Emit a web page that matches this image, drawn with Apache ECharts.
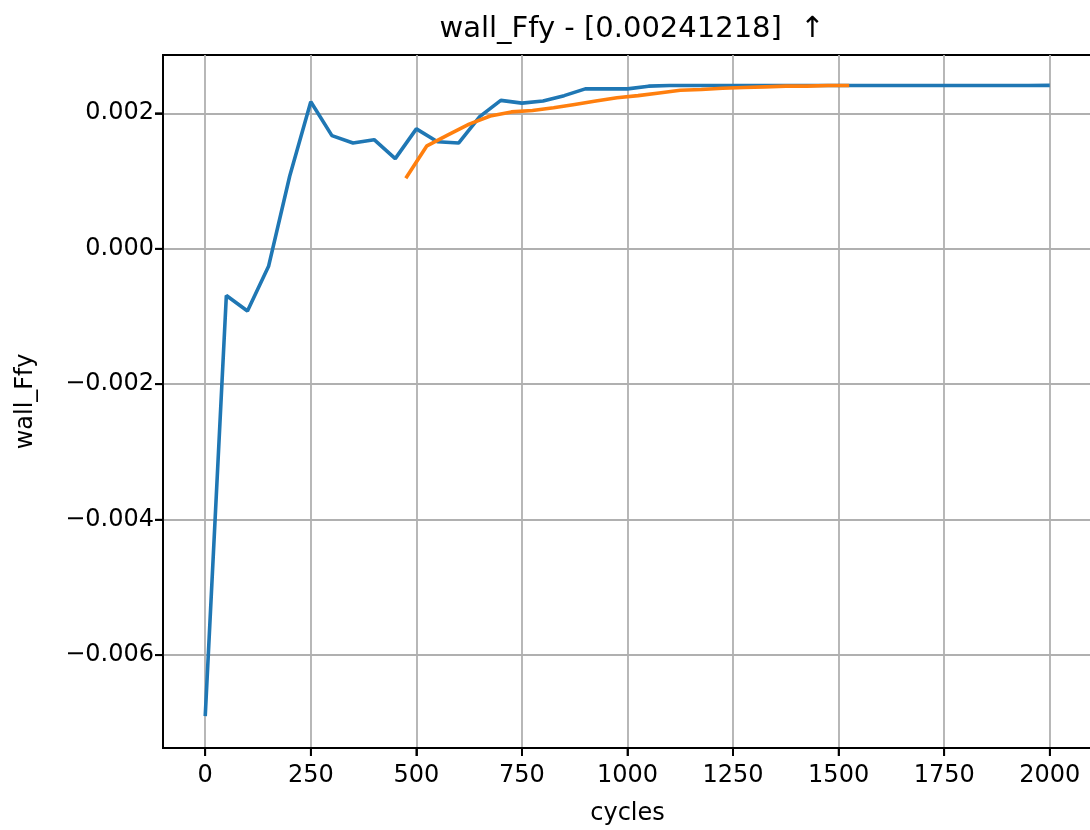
<!DOCTYPE html>
<html>
<head>
<meta charset="utf-8">
<script src="https://cdn.jsdelivr.net/npm/echarts@6/dist/echarts.min.js"></script>
<style>
html,body{margin:0;padding:0;background:#fff;}
#chart{width:1090px;height:830px;}
</style>
</head>
<body>
<div id="chart"></div>
<script>
const titleText = 'wall_Ffy - [0.00241218]  \u2191';
const xName = 'cycles';
const yName = 'wall_Ffy';
const xTicks = [0, 250, 500, 750, 1000, 1250, 1500, 1750, 2000];
const yTicks = [-0.006, -0.004, -0.002, 0.000, 0.002];

const blueX = [0, 50, 100, 150, 200, 250, 300, 350, 400, 450, 500, 550, 600, 650, 700, 750, 800, 850, 900, 950, 1000, 1050, 1100, 1150, 1200, 1250, 1300, 1350, 1400, 1450, 1500, 1550, 1600, 1650, 1700, 1750, 1800, 1850, 1900, 1950, 2000];
const blueY = [-0.00690, -0.00069, -0.00092, -0.00026, 0.00107, 0.00217, 0.00167, 0.00156, 0.00161, 0.00133, 0.00177, 0.00158, 0.00156, 0.00195, 0.00219, 0.00215, 0.00218, 0.00226, 0.00236, 0.00236, 0.00236, 0.00240, 0.00241, 0.00241, 0.00241, 0.00241, 0.00241, 0.00241, 0.00241, 0.00241, 0.00241, 0.00241, 0.00241, 0.00241, 0.00241, 0.00241, 0.00241, 0.00241, 0.00241, 0.00241, 0.00241218];

const orangeX = [475, 525, 575, 625, 675, 725, 775, 825, 875, 925, 975, 1025, 1075, 1125, 1175, 1225, 1275, 1325, 1375, 1425, 1475, 1525];
const orangeY = [0.00104, 0.00152, 0.00168, 0.00184, 0.00196, 0.00202, 0.00204, 0.00208, 0.00213, 0.00218, 0.00223, 0.00226, 0.00230, 0.00234, 0.00235, 0.00237, 0.00238, 0.00239, 0.00240, 0.00240, 0.00241, 0.00241];

const X_MIN = -100, X_MAX = 2100, Y_MIN = -0.00737, Y_MAX = 0.00286;

const zip = (xs, ys) => xs.map((x, i) => [x, ys[i]]);
const fmtY = v => {
  const s = Math.abs(v).toFixed(3);
  return (v < -1e-12 ? '\u2212' : '') + s;
};
const fmtX = v => String(Math.round(v));
const font = 'DejaVu Sans';
const axisLineStyle = {color: '#000', width: 1.8};

const chart = echarts.init(document.getElementById('chart'));
chart.setOption({
  animation: false,
  backgroundColor: '#fff',
  title: {
    text: titleText,
    left: 627, top: 10, textAlign: 'center',
    textStyle: {fontFamily: font, fontSize: 29, fontWeight: 'normal', color: '#000'}
  },
  grid: {left: 163, right: -2, top: 55, bottom: 82, containLabel: false, outerBoundsMode: 'none', show: true, borderColor: '#000', borderWidth: 1.8, backgroundColor: 'transparent'},
  xAxis: {
    type: 'value', min: X_MIN, max: X_MAX, position: 'bottom',
    name: xName, nameLocation: 'middle', nameGap: 54, nameMoveOverlap: false,
    nameTextStyle: {fontFamily: font, fontSize: 24, color: '#000'},
    axisLine: {show: true, onZero: false, lineStyle: axisLineStyle},
    axisTick: {show: true, inside: false, length: 8, customValues: xTicks, lineStyle: {color: '#000', width: 1.8}},
    axisLabel: {customValues: xTicks, formatter: fmtX, fontFamily: font, fontSize: 24, color: '#000', margin: 16, hideOverlap: false},
    splitLine: {show: true, lineStyle: {color: '#b0b0b0', width: 1.8}}
  },
  yAxis: {
    type: 'value', min: Y_MIN, max: Y_MAX, position: 'left',
    name: yName, nameLocation: 'middle', nameGap: 125, nameRotate: 90, nameMoveOverlap: false,
    nameTextStyle: {fontFamily: font, fontSize: 24, color: '#000'},
    axisLine: {show: true, onZero: false, lineStyle: axisLineStyle},
    axisTick: {show: true, inside: false, length: 8, customValues: yTicks, lineStyle: {color: '#000', width: 1.8}},
    axisLabel: {customValues: yTicks, formatter: fmtY, fontFamily: font, fontSize: 24, color: '#000', margin: 9, hideOverlap: false},
    splitLine: {show: true, lineStyle: {color: '#b0b0b0', width: 1.8}}
  },
  series: [
    {type: 'line', data: zip(blueX, blueY), showSymbol: false, symbol: 'none', lineStyle: {color: '#1f77b4', width: 3.6}, itemStyle: {color: '#1f77b4'}, z: 3},
    {type: 'line', data: zip(orangeX, orangeY), showSymbol: false, symbol: 'none', lineStyle: {color: '#ff7f0e', width: 3.6}, itemStyle: {color: '#ff7f0e'}, z: 4}
  ]
});

// Outward tick marks, positioned through the chart's own axis scales
const TICK_LEN = 8;
const axisBottom = chart.convertToPixel({yAxisIndex: 0}, Y_MIN);
const axisLeft = chart.convertToPixel({xAxisIndex: 0}, X_MIN);
const tickEls = [];
xTicks.forEach(v => {
  const px = chart.convertToPixel({xAxisIndex: 0}, v);
  tickEls.push({type: 'line', silent: true, z: 100,
    shape: {x1: px, y1: axisBottom, x2: px, y2: axisBottom + TICK_LEN},
    style: {stroke: '#000', lineWidth: 1.8}});
});
yTicks.forEach(v => {
  const py = chart.convertToPixel({yAxisIndex: 0}, v);
  tickEls.push({type: 'line', silent: true, z: 100,
    shape: {x1: axisLeft - TICK_LEN, y1: py, x2: axisLeft, y2: py},
    style: {stroke: '#000', lineWidth: 1.8}});
});
chart.setOption({graphic: tickEls});
</script>
</body>
</html>
